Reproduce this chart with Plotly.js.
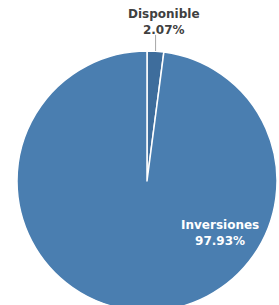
<!DOCTYPE html>
<html>
<head>
<meta charset="utf-8">
<script src="https://cdn.plot.ly/plotly-3.0.1.min.js"></script>
<style>
html,body{margin:0;padding:0;overflow:hidden;background:#fff;}
#chart{width:279px;height:311px;}
</style>
</head>
<body>
<div id="chart"></div>
<script>
const labels = ["Disponible", "Inversiones"];
const values = [2.07, 97.93];
const colors = ["#3e6d9c", "#4a7eb0"];

const fmt = v => v.toFixed(2) + "%";

const trace = {
  type: "pie",
  labels: labels,
  values: values,
  sort: false,
  direction: "clockwise",
  rotation: 0,
  textinfo: "none",
  hoverinfo: "label+percent",
  marker: {colors: colors, line: {color: "#ffffff", width: 1.5}},
  domain: {x: [0, 1], y: [0, 1]}
};

const layout = {
  width: 279,
  height: 311,
  margin: {l: 17, r: 2, t: 51, b: 0},
  showlegend: false,
  paper_bgcolor: "#ffffff",
  font: {family: "DejaVu Sans, Verdana, sans-serif"},
  shapes: [{
    type: "line", xref: "paper", yref: "paper",
    x0: 0.533, x1: 0.533, y0: 1.0, y1: 1.062,
    line: {color: "#a6a6a6", width: 1}
  }],
  annotations: [
    {
      xref: "paper", yref: "paper", x: 0.565, y: 1.1115,
      xanchor: "center", yanchor: "middle", showarrow: false,
      text: "<b>" + labels[0] + "</b><br><b>" + fmt(values[0]) + "</b>",
      font: {size: 12, color: "#404040"}
    },
    {
      xref: "paper", yref: "paper", x: 0.779, y: 0.30,
      xanchor: "center", yanchor: "middle", showarrow: false,
      text: "<b>" + labels[1] + "</b><br><b>" + fmt(values[1]) + "</b>",
      font: {size: 12, color: "#ffffff"}
    }
  ]
};

Plotly.newPlot("chart", [trace], layout, {displayModeBar: false, staticPlot: true});
</script>
</body>
</html>
